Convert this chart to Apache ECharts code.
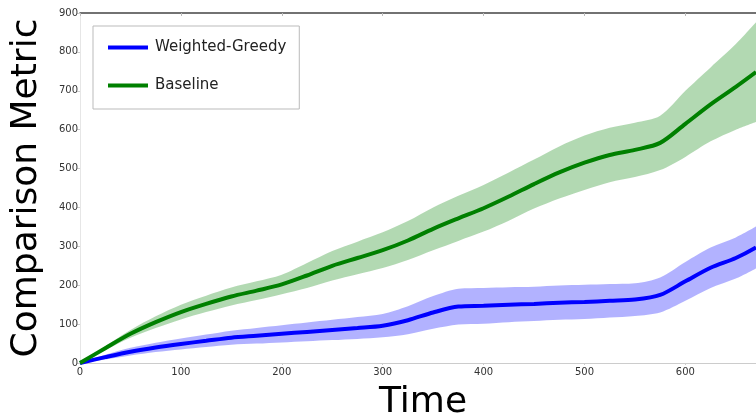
<!DOCTYPE html>
<html><head><meta charset="utf-8">
<script src="https://cdn.jsdelivr.net/npm/echarts@6/dist/echarts.min.js"></script>
<style>html,body{margin:0;padding:0;background:#fff}#c{width:756px;height:420px}</style>
</head><body><div id="c"></div>
<script>
const times = [0,25,50,75,100,125,150,175,200,225,250,275,300,325,350,375,400,425,450,475,500,525,550,575,600,625,650,670];
const greedyMean = [0,15,29,40,49,57,65,70,75,80,85,90,96,110,130,145,147,150,152,155,157,160,163,175,210,245,270,297];
const greedySpread = [0,6,10,12,14,16,18,20,22,24,26,28,30,36,42,46,46,45,44,44,44,43,42,45,50,52,53,54];
const baseMean = [0,38,75,105,131,152,171,186,202,225,250,270,290,315,345,372,398,428,460,490,515,535,548,566,615,665,710,748];
const baseSpread = [0,5,10,15,19,21,23,24,25,32,38,42,46,50,55,58,60,62,63,67,70,70,70,70,85,95,110,128];
const xTicks = [0,100,200,300,400,500,600];
const yTicks = [0,100,200,300,400,500,600,700,800,900];

// rows are [value, time] so the stacked dimension is the value
const pairs = (arr) => times.map((t,i)=>[arr[i], t]);
const lower = (m,s) => times.map((t,i)=>[m[i]-s[i], t]);
const width = (s) => times.map((t,i)=>[2*s[i], t]);
const enc = {x:1, y:0};

function band(name, m, s, color, stack){
  return [
    {type:'line', name:name+'_lo', stack:stack, data:lower(m,s), encode:enc, smooth:0.3, symbol:'none',
     lineStyle:{opacity:0}, silent:true, z:1},
    {type:'line', name:name+'_hi', stack:stack, data:width(s), encode:enc, smooth:0.3, symbol:'none',
     lineStyle:{opacity:0}, areaStyle:{color:color, opacity:1}, silent:true, z:1}
  ];
}

const chart = echarts.init(document.getElementById('c'), null, {renderer:'canvas'});
const labelFont = {fontFamily:'DejaVu Sans', fontSize:10, color:'#333'};
chart.setOption({
  animation:false,
  grid:{left:80, top:13, right:0, bottom:57, containLabel:false, outerBoundsMode:'none'},
  legend:{
    data:[{name:'Weighted-Greedy'},{name:'Baseline'}],
    orient:'vertical', left:93, top:26, padding:[14,13,16,15],
    itemWidth:40, itemHeight:4, itemGap:23, icon:'rect',
    backgroundColor:'#fff', borderColor:'#bbb', borderWidth:1,
    textStyle:{fontFamily:'DejaVu Sans', fontSize:15, color:'#222', padding:[0,0,0,2]}
  },
  xAxis:[{
    type:'value', min:0, max:670, interval:100,
    name:'Time', nameLocation:'middle', nameGap:22,
    nameTextStyle:{fontFamily:'DejaVu Sans', fontSize:36, color:'#000', verticalAlign:'top', padding:[0,0,0,10]},
    axisLine:{lineStyle:{color:'#ccc', width:1}},
    axisTick:{show:true, length:2, lineStyle:{color:'#ccc'}},
    axisLabel:Object.assign({margin:4, customValues:xTicks}, labelFont),
    splitLine:{show:false}
  },{
    type:'value', position:'top', min:0, max:670, interval:100,
    axisLine:{show:true, lineStyle:{color:'#444', width:1.5}},
    axisTick:{show:true, inside:true, length:3, lineStyle:{color:'#bbb'}},
    axisLabel:{show:false}, splitLine:{show:false}
  }],
  yAxis:{
    type:'value', min:0, max:900, interval:100,
    name:'Comparison Metric', nameLocation:'middle', nameGap:35, nameRotate:90,
    nameTextStyle:{fontFamily:'DejaVu Sans', fontSize:36, color:'#000'},
    axisLine:{show:true, lineStyle:{color:'#e6e6e6', width:1}},
    axisTick:{show:true, length:3, lineStyle:{color:'#ccc'}},
    axisLabel:Object.assign({margin:2, customValues:yTicks}, labelFont),
    splitLine:{show:false}
  },
  series:[
    ...band('base', baseMean, baseSpread, 'rgba(0,128,0,0.3)', 'b'),
    ...band('greedy', greedyMean, greedySpread, 'rgba(0,0,255,0.3)', 'g'),
    {type:'line', name:'Weighted-Greedy', data:pairs(greedyMean), encode:enc, smooth:0.3, symbol:'none',
     lineStyle:{color:'#0000ff', width:4}, itemStyle:{color:'#0000ff'}, z:3},
    {type:'line', name:'Baseline', data:pairs(baseMean), encode:enc, smooth:0.3, symbol:'none',
     lineStyle:{color:'#008000', width:4}, itemStyle:{color:'#008000'}, z:3}
  ]
});
</script></body></html>
